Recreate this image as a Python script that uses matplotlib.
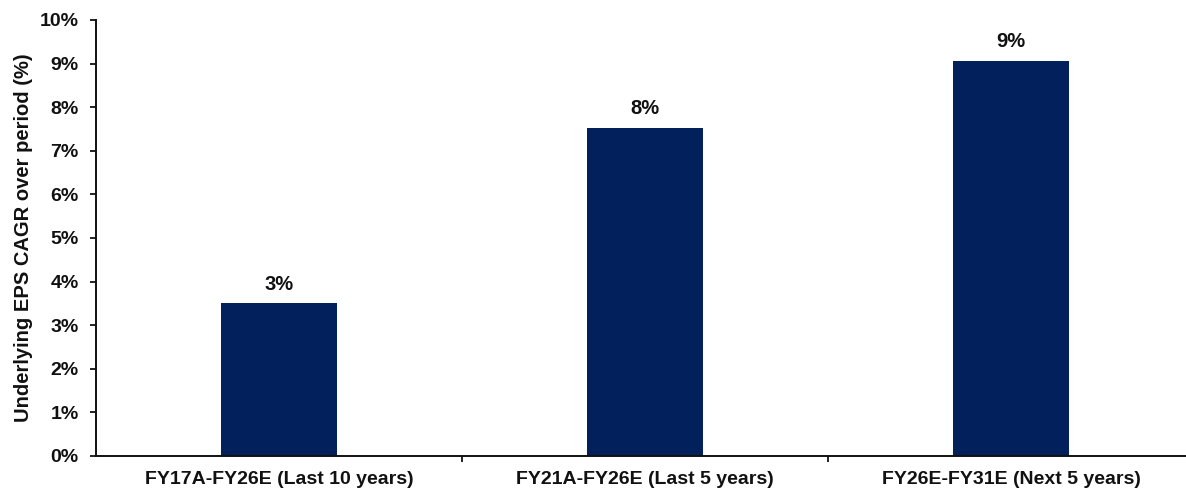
import matplotlib
matplotlib.use("Agg")
import matplotlib.pyplot as plt
from matplotlib.ticker import FixedLocator, PercentFormatter

categories = ["FY17A-FY26E (Last 10 years)", "FY21A-FY26E (Last 5 years)", "FY26E-FY31E (Next 5 years)"]
values = [3.5, 7.52, 9.06]
labels = ["3%", "8%", "9%"]
yticks = list(range(0, 11))

plt.rcParams['font.family'] = ['Liberation Sans', 'DejaVu Sans']
plt.rcParams['font.weight'] = 'bold'

fig = plt.figure(figsize=(11.86, 4.91), dpi=100)
ax = fig.add_axes([96/1186, 1-456/491, 1-96/1186, (456-20)/491])

x = list(range(len(categories)))
bars = ax.bar(x, values, width=0.317, color='#02205b', zorder=2)
for xi, v, lab in zip(x, values, labels):
    ax.annotate(lab, (xi, v), xytext=(0, 10), textcoords='offset points',
                ha='center', va='baseline', fontsize=14.5, fontweight='bold', color='#111111')

ax.set_ylim(0, 10)
ax.set_xlim(-0.5, 2.478)
ax.set_yticks(yticks)
ax.yaxis.set_major_formatter(PercentFormatter(decimals=0))
ax.set_xticks(x)
ax.set_xticklabels(categories)
ax.xaxis.set_minor_locator(FixedLocator([0.5, 1.5]))

for s in ['top', 'right']:
    ax.spines[s].set_visible(False)
for s in ['left', 'bottom']:
    ax.spines[s].set_linewidth(1.4)
    ax.spines[s].set_color('#111111')

ax.tick_params(axis='y', direction='out', length=4.5, width=1.3, pad=8, labelsize=14, colors='#111111')
ax.tick_params(axis='x', which='major', length=0, pad=11, labelsize=14, colors='#111111')
ax.tick_params(axis='x', which='minor', direction='out', length=4, width=1.3, colors='#111111')

ax.set_ylabel("Underlying EPS CAGR over period (%)", fontsize=14.5, fontweight='bold', color='#111111')
ax.yaxis.set_label_coords(-63/1090, 0.5)

fig.savefig("out.png", dpi=100)
